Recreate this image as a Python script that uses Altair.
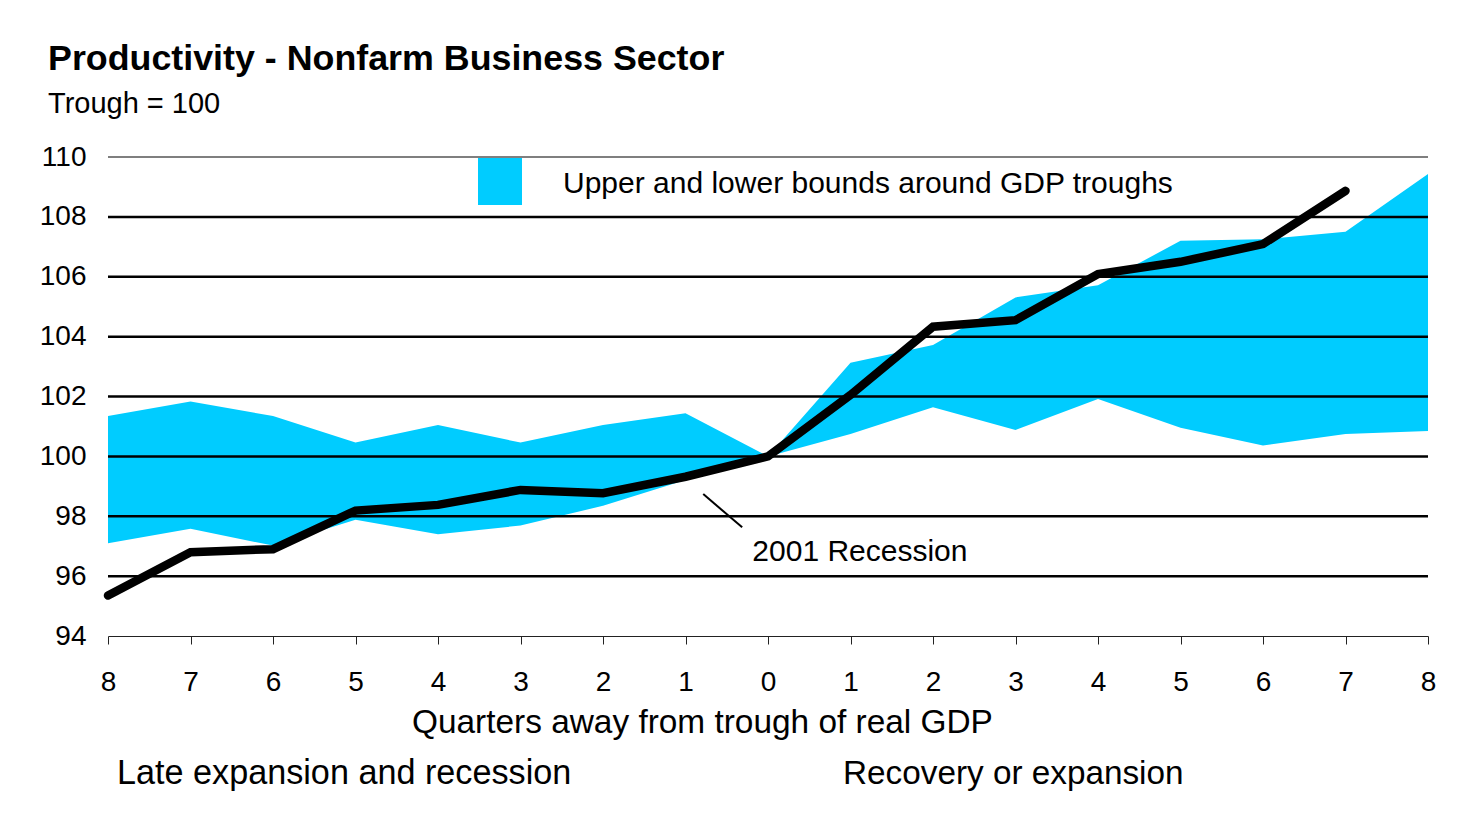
import altair as alt
import pandas as pd

FONT = "Liberation Sans"

# ---- data ----
quarters = list(range(-8, 9))
upper_bound = [101.35, 101.83, 101.35, 100.46, 101.05, 100.46, 101.05, 101.44, 100.0,
               103.13, 103.72, 105.31, 105.72, 107.2, 107.25, 107.5, 109.43]
lower_bound = [97.1, 97.58, 97.02, 97.88, 97.4, 97.69, 98.35, 99.21, 100.0,
               100.75, 101.64, 100.88, 101.92, 100.96, 100.36, 100.75, 100.85]
rec_quarters = list(range(-8, 8))
recession_2001 = [95.35, 96.8, 96.9, 98.19, 98.38, 98.88, 98.77, 99.32, 100.0,
                  102.05, 104.33, 104.55, 106.09, 106.5, 107.09, 108.87]
y_ticks = [94, 96, 98, 100, 102, 104, 106, 108, 110]
grid_major = [96, 98, 100, 102, 104, 106, 108]
grid_top = [110]

band_df = pd.DataFrame({"q": quarters, "upper": upper_bound, "lower": lower_bound})
line_df = pd.DataFrame({"q": rec_quarters, "v": recession_2001})
pointer_df = pd.DataFrame({"x": [-0.785], "y": [98.74], "x2": [-0.313], "y2": [97.63]})
label_df = pd.DataFrame({"x": [-0.19], "y": [96.5], "t": ["2001 Recession"]})

xscale = alt.Scale(domain=[-8, 8], nice=False, zero=False)
yscale = alt.Scale(domain=[94, 110], nice=False, zero=False)

x_axis = alt.Axis(values=quarters, labelExpr="abs(datum.value)", title=None, grid=False,
                  domainColor="#222222", domainWidth=1, tickColor="#222222", tickWidth=1,
                  tickSize=8, labelFontSize=28, labelFont=FONT, labelColor="black",
                  labelPadding=24, labelFlush=False, labelOverlap=False)
y_axis = alt.Axis(values=y_ticks, title=None, grid=False, domain=False, ticks=False,
                  tickSize=0, labelFontSize=28, labelFont=FONT, labelColor="black",
                  labelPadding=22, labelFlush=False, labelOverlap=False)

X = lambda f: alt.X(f, scale=xscale, axis=x_axis)
Y = lambda f: alt.Y(f, scale=yscale, axis=y_axis)

band = alt.Chart(band_df).mark_area(color="#00CCFF", opacity=1).encode(
    x=X("q:Q"), y=Y("upper:Q"), y2="lower:Q",
)

grid1 = alt.Chart(pd.DataFrame({"g": grid_major})).mark_rule(color="black", strokeWidth=2.5).encode(
    y=Y("g:Q")
)
grid2 = alt.Chart(pd.DataFrame({"g": grid_top})).mark_rule(color="black", strokeWidth=1.2).encode(
    y=Y("g:Q")
)

line = alt.Chart(line_df).mark_line(color="black", strokeWidth=8.5, strokeCap="round",
                                     strokeJoin="miter").encode(
    x=X("q:Q"), y=Y("v:Q"),
)

pointer = alt.Chart(pointer_df).mark_rule(color="black", strokeWidth=2).encode(
    x=X("x:Q"), y=Y("y:Q"), x2="x2:Q", y2="y2:Q",
)
rec_label = alt.Chart(label_df).mark_text(font=FONT, fontSize=30, align="left",
                                          baseline="alphabetic", color="black").encode(
    x=X("x:Q"), y=Y("y:Q"), text="t:N"
)

one = pd.DataFrame({"a": [0]})

def ptext(txt, x, y, size, weight="normal"):
    return alt.Chart(one).mark_text(text=txt, font=FONT, fontSize=size, fontWeight=weight,
                                    align="left", baseline="alphabetic", color="black").encode(
        x=alt.value(x), y=alt.value(y))

legend_box = alt.Chart(one).mark_rect(color="#00CCFF").encode(
    x=alt.value(370), x2=alt.value(414), y=alt.value(1), y2=alt.value(48))

title = ptext("Productivity - Nonfarm Business Sector", -60, -87, 35.8, "bold")
subtitle = ptext("Trough = 100", -60, -44, 29)
legend_text = ptext("Upper and lower bounds around GDP troughs", 455, 36, 30)
axis_title = ptext("Quarters away from trough of real GDP", 304, 576, 33.4)
left_note = ptext("Late expansion and recession", 9, 627, 34.2)
right_note = ptext("Recovery or expansion", 735, 627, 33.3)

chart = alt.layer(
    band, grid1, grid2, line, pointer, rec_label, legend_box, legend_text,
    title, subtitle, axis_title, left_note, right_note
).properties(
    width=1320, height=479,
    autosize=alt.AutoSizeParams(type="none"),
    padding={"left": 100, "top": 149, "right": 16, "bottom": 161},
    background="white",
).configure_view(stroke=None)

chart.save("out.html", embed_options={"renderer": "svg", "actions": False})
